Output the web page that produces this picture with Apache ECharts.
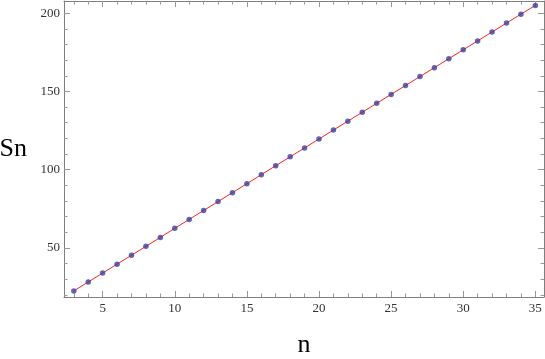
<!DOCTYPE html>
<html>
<head>
<meta charset="utf-8">
<script src="https://cdn.jsdelivr.net/npm/echarts@6/dist/echarts.min.js"></script>
<style>html,body{margin:0;padding:0;background:#fff;}#c{width:545px;height:359px;}</style>
</head>
<body>
<div id="c"></div>
<script>
var nValues = [3,4,5,6,7,8,9,10,11,12,13,14,15,16,17,18,19,20,21,22,23,24,25,26,27,28,29,30,31,32,33,34,35];
var snValues = [22.5,28.2,33.9,39.6,45.3,51.0,56.7,62.5,68.2,73.9,79.6,85.3,91.0,96.8,102.5,108.2,113.9,119.6,125.3,131.0,136.7,142.4,148.1,153.8,159.5,165.2,170.9,176.6,182.3,188.0,193.7,199.4,205.0];
var xMajorTicks = [5,10,15,20,25,30,35];
var xMinorTicks = [3,4,6,7,8,9,11,12,13,14,16,17,18,19,21,22,23,24,26,27,28,29,31,32,33,34];
var yMajorTicks = [50,100,150,200];
var yMinorTicks = [20,30,40,60,70,80,90,110,120,130,140,160,170,180,190];

var pts = nValues.map(function(n,i){return [n, snValues[i]];});
var XMIN = 2.32, XMAX = 35.6, YMIN = 18.6, YMAX = 207.8;
var frameColor = '#7f7f7f', tickColor = '#999999';
var fontFam = '"Liberation Serif", serif';

function ax(kind, pos, grid, ticks, len, showLine, showLabel, extra) {
  var o = {
    type: 'value', gridIndex: grid, position: pos,
    min: kind === 'x' ? XMIN : YMIN, max: kind === 'x' ? XMAX : YMAX,
    axisLine: {show: showLine, onZero: false, lineStyle: {color: frameColor, width: 1}},
    axisTick: {show: true, inside: true, length: len, customValues: ticks, lineStyle: {color: tickColor, width: 1}},
    axisLabel: {show: showLabel, customValues: ticks, color: '#333', fontFamily: fontFam, fontSize: 13, margin: kind === 'x' ? 5 : 4},
    splitLine: {show: false}
  };
  if (extra) for (var k in extra) o[k] = extra[k];
  return o;
}

var gridBox = {left: 64, right: 1, top: 1, bottom: 62, containLabel: false, outerBoundsMode: 'none'};

var chart = echarts.init(document.getElementById('c'));
chart.setOption({
  animation: false,
  backgroundColor: '#fff',
  textStyle: {fontFamily: fontFam},
  grid: [Object.assign({}, gridBox), Object.assign({}, gridBox)],
  xAxis: [
    ax('x','bottom',0,xMajorTicks,6,true,true,{name:'n', nameLocation:'middle', nameGap:35, nameTextStyle:{fontFamily:fontFam, fontSize:26, color:'#000'}}),
    ax('x','top',0,xMajorTicks,6,true,false),
    ax('x','bottom',1,xMinorTicks,3.5,false,false),
    ax('x','top',1,xMinorTicks,3.5,false,false)
  ],
  yAxis: [
    ax('y','left',0,yMajorTicks,6,true,true,{name:'Sn', nameLocation:'middle', nameRotate:0, nameGap:37, nameTextStyle:{fontFamily:fontFam, fontSize:26, color:'#000'}}),
    ax('y','right',0,yMajorTicks,6,true,false),
    ax('y','left',1,yMinorTicks,3.5,false,false),
    ax('y','right',1,yMinorTicks,3.5,false,false)
  ],
  series: [
    {type: 'line', xAxisIndex: 0, yAxisIndex: 0, data: pts, showSymbol: false, symbol: 'none',
     lineStyle: {color: '#ff2020', width: 1}, z: 2},
    {type: 'scatter', xAxisIndex: 0, yAxisIndex: 0, data: pts, symbol: 'circle', symbolSize: 5.5,
     itemStyle: {color: '#3d3d9e'}, z: 3}
  ]
});
</script>
</body>
</html>
